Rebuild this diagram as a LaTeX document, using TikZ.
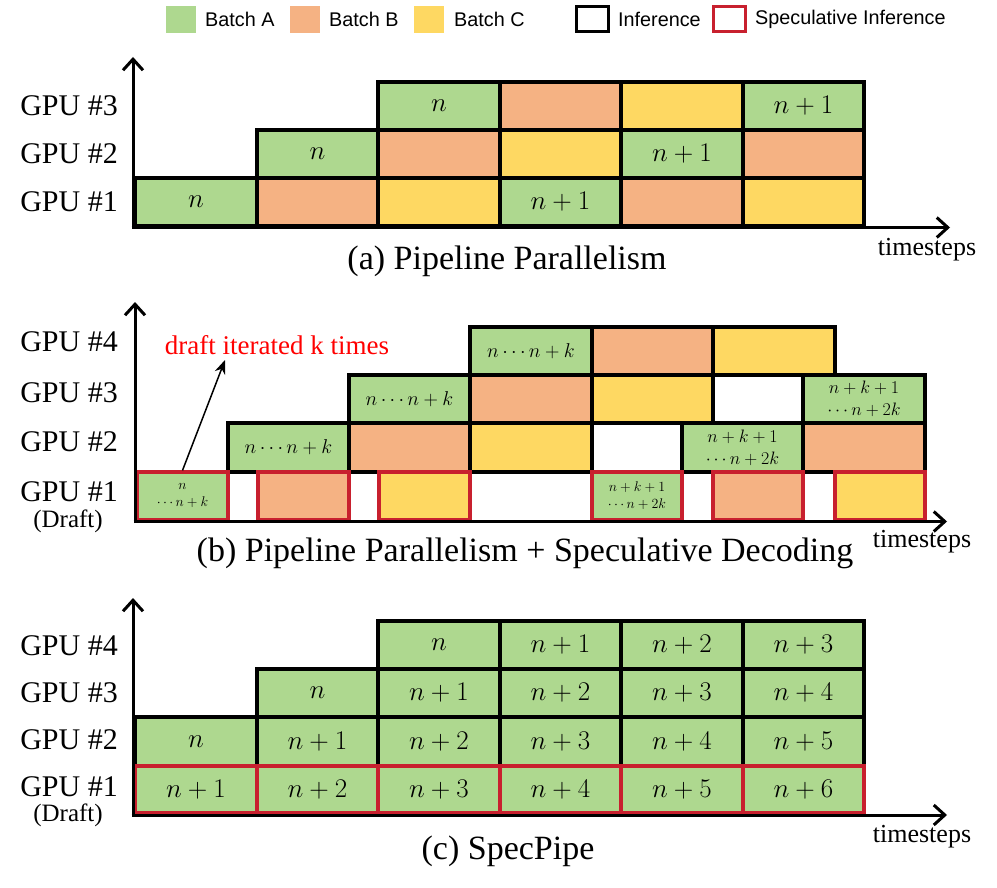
\RequirePackage{fix-cm}
\documentclass[tikz,border=0pt]{standalone}
\usepackage{fontspec}
\setmainfont{Liberation Serif}
\newfontfamily\legendfont{Liberation Sans}
\usetikzlibrary{arrows.meta}
\definecolor{cA}{RGB}{174,216,143}
\definecolor{cB}{RGB}{245,178,131}
\definecolor{cC}{RGB}{254,216,98}
\definecolor{specred}{RGB}{200,32,46}
\tikzset{
  cellbox/.style={draw=black, line width=3.2pt, inner sep=0pt, rectangle, align=center, font=\fontsize{27}{30}\selectfont},
  specbox/.style={draw=specred, line width=3.2pt, inner sep=0pt, rectangle, align=center, font=\fontsize{27}{30}\selectfont},
  batchA/.style={fill=cA},
  batchB/.style={fill=cB},
  batchC/.style={fill=cC},
  twofont/.style={font=\fontsize{18}{22}\selectfont},
  smallfont/.style={font=\fontsize{14}{17}\selectfont},
  gpulab/.style={anchor=east, inner sep=0pt, font=\fontsize{30}{34}\selectfont},
  draftlab/.style={anchor=center, inner sep=0pt, font=\fontsize{25}{28}\selectfont},
  titlelab/.style={inner sep=0pt, font=\fontsize{34}{40}\selectfont},
  timelab/.style={inner sep=0pt, font=\fontsize{26}{30}\selectfont},
  axisline/.style={line width=3pt, -{Straight Barb[length=11pt,width=20pt]}},
  legtext/.style={anchor=west, inner sep=0pt, font=\legendfont\fontsize{19.8}{22}\selectfont},
}
% #1 style, #2 x1, #3 x2, #4 y1, #5 y2, #6 name, #7 text
\newcommand\mycell[7]{\node[#1, minimum width={(#3)-(#2)}, minimum height={(#5)-(#4)}] (#6) at ({((#2)+(#3))/2},{((#4)+(#5))/2}) {#7};}
\begin{document}
\begin{tikzpicture}[x=1pt,y=-1pt]
\useasboundingbox (0,0) rectangle (997,888);
% ---------------- legend
\node[batchA, minimum width=30, minimum height=27, inner sep=0pt] (legA) at (181,19.5) {};
\node[legtext] (legAt) at (205,19.5) {Batch A};
\node[batchB, minimum width=30, minimum height=27, inner sep=0pt] (legB) at (305,19.5) {};
\node[legtext] (legBt) at (329,19.5) {Batch B};
\node[batchC, minimum width=30, minimum height=27, inner sep=0pt] (legC) at (428.5,19.5) {};
\node[legtext] (legCt) at (454,19.5) {Batch C};
\node[draw=black, line width=3pt, minimum width=32, minimum height=25, inner sep=0pt] (legI) at (592,19.5) {};
\node[legtext] (legIt) at (618,19.5) {Inference};
\node[draw=specred, line width=3pt, minimum width=32, minimum height=25, inner sep=0pt] (legS) at (729.5,19.5) {};
\node[legtext] (legSt) at (755,19.5) {Speculative Inference};

% ---------------- (a)
\mycell{cellbox,batchA}{135}{257}{178}{226}{a10}{$n$}
\mycell{cellbox,batchB}{257}{378}{178}{226}{a11}{}
\mycell{cellbox,batchC}{378}{500}{178}{226}{a12}{}
\mycell{cellbox,batchA}{500}{621}{178}{226}{a13}{$n+1$}
\mycell{cellbox,batchB}{621}{743}{178}{226}{a14}{}
\mycell{cellbox,batchC}{743}{864}{178}{226}{a15}{}
\mycell{cellbox,batchA}{257}{378}{130}{178}{a21}{$n$}
\mycell{cellbox,batchB}{378}{500}{130}{178}{a22}{}
\mycell{cellbox,batchC}{500}{621}{130}{178}{a23}{}
\mycell{cellbox,batchA}{621}{743}{130}{178}{a24}{$n+1$}
\mycell{cellbox,batchB}{743}{864}{130}{178}{a25}{}
\mycell{cellbox,batchA}{378}{500}{82}{130}{a32}{$n$}
\mycell{cellbox,batchB}{500}{621}{82}{130}{a33}{}
\mycell{cellbox,batchC}{621}{743}{82}{130}{a34}{}
\mycell{cellbox,batchA}{743}{864}{82}{130}{a35}{$n+1$}
\coordinate (aO) at (133,227.5);
\coordinate (aY) at (133,57);
\coordinate (aX) at (950,227.5);
\draw[axisline] ([yshift=-1.5pt]aO) -- (aY);
\draw[axisline] ([xshift=-1.5pt]aO) -- (aX);
\node[gpulab] (aG3) at (118,106) {GPU \#3};
\node[gpulab] (aG2) at (118,154) {GPU \#2};
\node[gpulab] (aG1) at (118,202) {GPU \#1};
\node[titlelab] (aT) at (507,261) {(a) Pipeline Parallelism};
\node[timelab] (aTs) at (927,250) {timesteps};

% ---------------- (b)
\mycell{cellbox,batchA}{228}{349}{423}{472}{b21}{\fontsize{20}{24}\selectfont$n\cdots n+k$}
\mycell{cellbox,batchB}{349}{470}{423}{472}{b22}{}
\mycell{cellbox,batchC}{470}{592}{423}{472}{b23}{}
\mycell{cellbox,batchA,twofont}{682}{803}{423}{472}{b25}{$n+k+1$\\$\cdots n+2k$}
\mycell{cellbox,batchB}{803}{925}{423}{472}{b26}{}
\mycell{cellbox,batchA}{349}{470}{375}{423}{b32}{\fontsize{20}{24}\selectfont$n\cdots n+k$}
\mycell{cellbox,batchB}{470}{592}{375}{423}{b33}{}
\mycell{cellbox,batchC}{592}{713}{375}{423}{b34}{}
\mycell{cellbox,batchA,twofont}{803}{925}{375}{423}{b36}{$n+k+1$\\$\cdots n+2k$}
\mycell{cellbox,batchA}{470}{592}{327}{375}{b43}{\fontsize{20}{24}\selectfont$n\cdots n+k$}
\mycell{cellbox,batchB}{592}{713}{327}{375}{b44}{}
\mycell{cellbox,batchC}{713}{835}{327}{375}{b45}{}
\mycell{specbox,batchA,smallfont}{137}{228}{472}{520}{d1}{$n$\\$\cdots n+k$}
\mycell{specbox,batchB}{258}{349}{472}{520}{d2}{}
\mycell{specbox,batchC}{379}{470}{472}{520}{d3}{}
\mycell{specbox,batchA,smallfont}{592}{682}{472}{520}{d4}{$n+k+1$\\$\cdots n+2k$}
\mycell{specbox,batchB}{713}{803}{472}{520}{d5}{}
\mycell{specbox,batchC}{835}{925}{472}{520}{d6}{}
\coordinate (bO) at (135,521.5);
\coordinate (bY) at (135,302);
\coordinate (bX) at (947,521.5);
\draw[axisline] ([yshift=-1.5pt]bO) -- (bY);
\draw[axisline] ([xshift=-1.5pt]bO) -- (bX);
\node[gpulab] (bG4) at (118,342) {GPU \#4};
\node[gpulab] (bG3) at (118,393) {GPU \#3};
\node[gpulab] (bG2) at (118,442) {GPU \#2};
\node[gpulab] (bG1) at (118,492) {GPU \#1};
\node[draftlab] (bD) at (68,521) {(Draft)};
\node[inner sep=0pt, text=red, font=\fontsize{27}{30}\selectfont] (bNote) at (277,345) {draft iterated k times};
\coordinate (bArr) at (225,360);
\draw[line width=1.5pt, -{Stealth[length=14pt,width=11pt]}] (d1.north) -- (bArr);
\node[titlelab] (bT) at (525,553) {(b) Pipeline Parallelism + Speculative Decoding};
\node[timelab] (bTs) at (922,542) {timesteps};

% ---------------- (c)
\mycell{cellbox,batchA}{378}{500}{621}{669}{c42}{$n$}
\mycell{cellbox,batchA}{500}{621}{621}{669}{c43}{$n+1$}
\mycell{cellbox,batchA}{621}{743}{621}{669}{c44}{$n+2$}
\mycell{cellbox,batchA}{743}{864}{621}{669}{c45}{$n+3$}
\mycell{cellbox,batchA}{257}{378}{669}{717}{c31}{$n$}
\mycell{cellbox,batchA}{378}{500}{669}{717}{c32}{$n+1$}
\mycell{cellbox,batchA}{500}{621}{669}{717}{c33}{$n+2$}
\mycell{cellbox,batchA}{621}{743}{669}{717}{c34}{$n+3$}
\mycell{cellbox,batchA}{743}{864}{669}{717}{c35}{$n+4$}
\mycell{cellbox,batchA}{135}{257}{717}{766}{c20}{$n$}
\mycell{cellbox,batchA}{257}{378}{717}{766}{c21}{$n+1$}
\mycell{cellbox,batchA}{378}{500}{717}{766}{c22}{$n+2$}
\mycell{cellbox,batchA}{500}{621}{717}{766}{c23}{$n+3$}
\mycell{cellbox,batchA}{621}{743}{717}{766}{c24}{$n+4$}
\mycell{cellbox,batchA}{743}{864}{717}{766}{c25}{$n+5$}
\mycell{specbox,batchA}{135}{257}{766}{813}{c10}{$n+1$}
\mycell{specbox,batchA}{257}{378}{766}{813}{c11}{$n+2$}
\mycell{specbox,batchA}{378}{500}{766}{813}{c12}{$n+3$}
\mycell{specbox,batchA}{500}{621}{766}{813}{c13}{$n+4$}
\mycell{specbox,batchA}{621}{743}{766}{813}{c14}{$n+5$}
\mycell{specbox,batchA}{743}{864}{766}{813}{c15}{$n+6$}
\coordinate (cO) at (133,815);
\coordinate (cY) at (133,598);
\coordinate (cX) at (947,815);
\draw[axisline] ([yshift=-1.5pt]cO) -- (cY);
\draw[axisline] ([xshift=-1.5pt]cO) -- (cX);
\node[gpulab] (cG4) at (118,646) {GPU \#4};
\node[gpulab] (cG3) at (118,693) {GPU \#3};
\node[gpulab] (cG2) at (118,740) {GPU \#2};
\node[gpulab] (cG1) at (118,787) {GPU \#1};
\node[draftlab] (cD) at (68,815) {(Draft)};
\node[titlelab] (cT) at (508,851) {(c) SpecPipe};
\node[timelab] (cTs) at (922,837) {timesteps};
\end{tikzpicture}
\end{document}
